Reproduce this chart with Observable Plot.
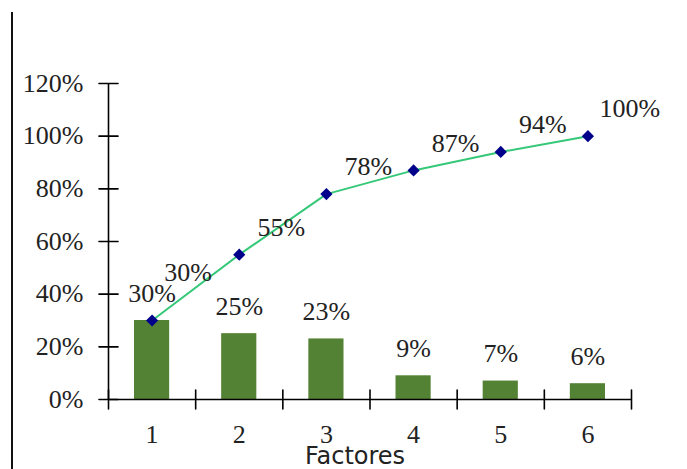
<!DOCTYPE html>
<html>
<head>
<meta charset="utf-8">
<script src="https://cdn.jsdelivr.net/npm/d3@7"></script>
<script src="https://cdn.jsdelivr.net/npm/@observablehq/plot@0.6"></script>
<style>
  html, body { margin: 0; padding: 0; background: #fff; }
  #wrap { position: relative; width: 687px; height: 469px; overflow: hidden; }
  #border { position: absolute; left: 11px; top: 12px; width: 2px; height: 470px; background: #111; z-index: 2; }
  #chart { position: absolute; left: 0; top: 0; z-index: 1; }
</style>
</head>
<body>
<div id="wrap"><div id="border"></div><div id="chart"></div></div>
<script>
const factors = [1, 2, 3, 4, 5, 6];
const shares = [0.30, 0.25, 0.23, 0.09, 0.07, 0.06];
const cumulative = [0.30, 0.55, 0.78, 0.87, 0.94, 1.00];
const yTicks = [0, 0.2, 0.4, 0.6, 0.8, 1.0, 1.2];
const xBoundaries = [0.5, 1.5, 2.5, 3.5, 4.5, 5.5, 6.5];
const xLabel = "Factores";

const data = factors.map((f, i) => ({f, share: shares[i], cum: cumulative[i]}));
const pct = d3.format(".0%");
const serif = "'Liberation Serif', 'Times New Roman', serif";
const tickShape = {draw(context, l) { context.moveTo(0, l / 2); context.lineTo(0, -l / 2); }};

const chart = Plot.plot({
  width: 687,
  height: 469,
  marginLeft: 108,
  marginRight: 56,
  marginTop: 83,
  marginBottom: 70,
  style: {fontFamily: serif, background: "transparent", color: "#222"},
  x: {domain: [0.5, 6.5]},
  y: {domain: [0, 1.2]},
  marks: [
    // bars
    Plot.rectY(data, {x1: d => d.f - 0.5, x2: d => d.f + 0.5, y: "share", fill: "#548235", insetLeft: 26, insetRight: 26}),
    // axes lines
    Plot.ruleX([0.5], {y1: 0, y2: 1.2, stroke: "#000", strokeWidth: 1.6}),
    Plot.ruleY([0], {x1: 0.5, x2: 6.5, stroke: "#000", strokeWidth: 1.6}),
    // crossing ticks
    Plot.vector(yTicks, {y: d => d, frameAnchor: "left", length: 19, rotate: 90, anchor: "start", shape: tickShape, stroke: "#000", strokeWidth: 1.6}),
    Plot.vector(xBoundaries, {x: d => d, frameAnchor: "bottom", length: 19, rotate: 0, anchor: "start", shape: tickShape, stroke: "#000", strokeWidth: 1.6}),
    // axis labels
    Plot.axisY({ticks: yTicks, tickFormat: pct, tickSize: 0, tickPadding: 25, fontSize: 26, fontFamily: serif, label: null, style: "letter-spacing:1.2px"}),
    Plot.axisX({ticks: factors, tickFormat: d3.format("d"), tickSize: 0, tickPadding: 25, fontSize: 26, fontFamily: serif, label: null}),
    // cumulative line
    Plot.line(data, {x: "f", y: "cum", stroke: "#35c878", strokeWidth: 2}),
    Plot.dot(data, {x: "f", y: "cum", symbol: "diamond2", r: 5.5, fill: "#00008b", stroke: "none"}),
    // bar labels
    Plot.text(data, {x: "f", y: "share", text: d => pct(d.share), dy: -27, fontSize: 26, fill: "#222", style: "letter-spacing:1.2px"}),
    // cumulative labels
    Plot.text(data.filter(d => d.f === 1), {x: "f", y: "cum", text: d => pct(d.cum), dx: 36, dy: -48, fontSize: 26, fill: "#222", style: "letter-spacing:1.2px"}),
    Plot.text(data.filter(d => d.f > 1), {x: "f", y: "cum", text: d => pct(d.cum), dx: 42, dy: -27, fontSize: 26, fill: "#222", style: "letter-spacing:1.2px"}),
    // x axis title
    Plot.text([xLabel], {frameAnchor: "bottom", dx: -15, dy: 64, fontSize: 24, fontFamily: "'DejaVu Sans', Verdana, sans-serif", fill: "#222"})
  ]
});
document.getElementById("chart").appendChild(chart);
</script>
</body>
</html>
